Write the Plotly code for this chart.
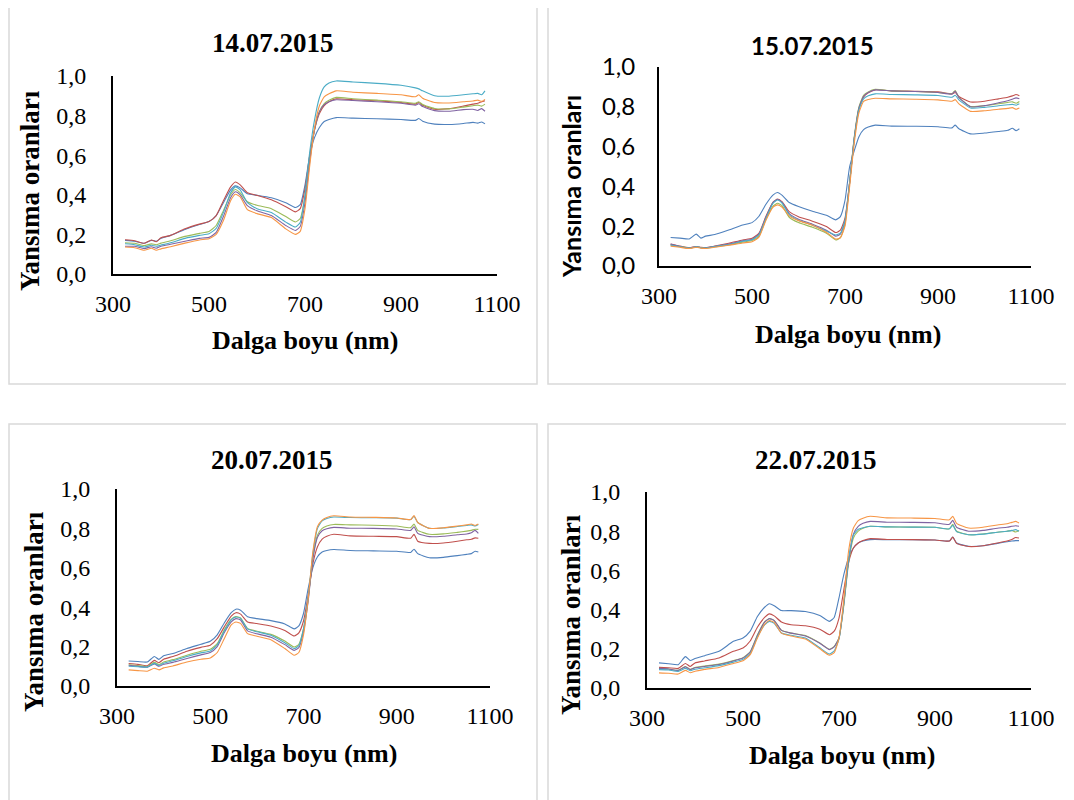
import plotly.graph_objects as go

# ---------------- data ----------------
WAVELENGTH = [325, 345, 365, 380, 390, 400, 420, 450, 480, 500, 515, 530, 545, 555, 565,
              580, 600, 630, 660, 680, 690, 700, 710, 720, 730, 740, 750, 765, 800, 850,
              900, 930, 937, 945, 970, 1000, 1030, 1050, 1060, 1068, 1075]

PANEL_TITLES = ["14.07.2015", "15.07.2015", "20.07.2015", "22.07.2015"]
X_TICKS = [300, 500, 700, 900, 1100]
Y_TICKS = [0.0, 0.2, 0.4, 0.6, 0.8, 1.0]
Y_TICK_TEXT = ["0,0", "0,2", "0,4", "0,6", "0,8", "1,0"]
X_TITLE = "Dalga boyu (nm)"
Y_TITLE = "Yansıma oranları"

# 14.07.2015
d14_s1 = [0.170,0.165,0.155,0.170,0.165,0.180,0.195,0.225,0.250,0.265,0.295,0.360,0.425,0.445,0.435,0.405,0.398,0.385,0.360,0.336,0.350,0.450,0.600,0.690,0.740,0.770,0.780,0.790,0.787,0.784,0.780,0.776,0.785,0.772,0.757,0.755,0.760,0.766,0.762,0.768,0.758]
d14_s2 = [0.173,0.168,0.155,0.172,0.163,0.183,0.195,0.228,0.252,0.265,0.295,0.370,0.440,0.465,0.450,0.410,0.397,0.375,0.340,0.314,0.330,0.430,0.600,0.730,0.810,0.850,0.870,0.885,0.880,0.875,0.866,0.858,0.866,0.852,0.832,0.835,0.848,0.858,0.862,0.870,0.875]
d14_s3 = [0.158,0.155,0.144,0.152,0.148,0.156,0.168,0.190,0.205,0.215,0.245,0.320,0.400,0.427,0.410,0.365,0.347,0.330,0.290,0.263,0.280,0.390,0.580,0.730,0.820,0.860,0.877,0.892,0.885,0.878,0.870,0.862,0.870,0.856,0.836,0.834,0.843,0.850,0.853,0.848,0.858]
d14_s4 = [0.140,0.140,0.128,0.138,0.130,0.140,0.150,0.165,0.180,0.185,0.210,0.290,0.385,0.415,0.400,0.345,0.319,0.295,0.245,0.220,0.240,0.360,0.570,0.730,0.820,0.855,0.870,0.880,0.876,0.870,0.862,0.853,0.860,0.846,0.825,0.822,0.830,0.832,0.826,0.835,0.822]
d14_s5 = [0.153,0.148,0.136,0.145,0.140,0.146,0.158,0.180,0.195,0.203,0.230,0.310,0.410,0.440,0.425,0.360,0.330,0.310,0.262,0.237,0.260,0.400,0.620,0.780,0.890,0.945,0.965,0.975,0.970,0.963,0.953,0.940,0.935,0.925,0.900,0.898,0.905,0.910,0.912,0.905,0.925]
d14_s6 = [0.136,0.133,0.120,0.130,0.120,0.127,0.138,0.156,0.172,0.178,0.200,0.270,0.370,0.403,0.390,0.325,0.305,0.285,0.228,0.200,0.215,0.330,0.550,0.740,0.850,0.895,0.910,0.925,0.918,0.912,0.905,0.895,0.905,0.888,0.866,0.864,0.870,0.874,0.878,0.872,0.882]

# 15.07.2015
d15_s1 = [0.143,0.140,0.136,0.160,0.140,0.150,0.158,0.181,0.206,0.218,0.250,0.310,0.356,0.369,0.355,0.319,0.299,0.275,0.255,0.232,0.248,0.330,0.500,0.580,0.650,0.685,0.698,0.708,0.703,0.702,0.700,0.694,0.708,0.690,0.664,0.668,0.676,0.682,0.692,0.680,0.690]
d15_s2 = [0.111,0.100,0.092,0.098,0.094,0.092,0.100,0.114,0.131,0.139,0.165,0.250,0.320,0.336,0.322,0.273,0.248,0.225,0.198,0.168,0.180,0.240,0.420,0.640,0.790,0.850,0.870,0.885,0.880,0.878,0.875,0.865,0.872,0.852,0.824,0.828,0.840,0.848,0.855,0.862,0.856]
d15_s3 = [0.106,0.098,0.090,0.096,0.092,0.090,0.097,0.106,0.120,0.128,0.150,0.235,0.300,0.315,0.302,0.245,0.218,0.195,0.165,0.131,0.142,0.210,0.420,0.650,0.800,0.858,0.875,0.888,0.880,0.877,0.872,0.866,0.882,0.848,0.802,0.805,0.815,0.822,0.825,0.818,0.827]
d15_s4 = [0.110,0.098,0.090,0.097,0.092,0.091,0.099,0.110,0.127,0.135,0.160,0.245,0.318,0.334,0.318,0.263,0.235,0.210,0.180,0.150,0.160,0.225,0.420,0.645,0.795,0.853,0.872,0.885,0.880,0.877,0.872,0.864,0.878,0.846,0.800,0.806,0.820,0.830,0.838,0.845,0.840]
d15_s5 = [0.105,0.097,0.090,0.096,0.092,0.090,0.098,0.108,0.124,0.132,0.157,0.240,0.315,0.332,0.315,0.258,0.230,0.205,0.175,0.156,0.165,0.230,0.420,0.640,0.785,0.840,0.855,0.865,0.862,0.860,0.857,0.848,0.858,0.835,0.794,0.797,0.805,0.810,0.812,0.808,0.815]
d15_s6 = [0.100,0.094,0.088,0.094,0.090,0.088,0.094,0.104,0.116,0.122,0.145,0.230,0.295,0.307,0.295,0.252,0.228,0.205,0.170,0.135,0.142,0.200,0.400,0.620,0.770,0.827,0.837,0.843,0.840,0.838,0.835,0.828,0.836,0.815,0.777,0.780,0.788,0.792,0.796,0.788,0.794]

# 20.07.2015
d20_s1 = [0.127,0.124,0.122,0.150,0.135,0.153,0.165,0.190,0.212,0.227,0.260,0.320,0.372,0.390,0.385,0.351,0.342,0.332,0.315,0.290,0.305,0.368,0.495,0.600,0.656,0.680,0.688,0.693,0.688,0.686,0.684,0.678,0.694,0.672,0.651,0.653,0.662,0.668,0.672,0.684,0.680]
d20_s2 = [0.114,0.110,0.103,0.130,0.118,0.136,0.150,0.176,0.196,0.207,0.240,0.300,0.355,0.372,0.365,0.325,0.317,0.305,0.282,0.254,0.270,0.330,0.460,0.620,0.707,0.746,0.760,0.770,0.762,0.760,0.758,0.750,0.770,0.735,0.724,0.726,0.735,0.742,0.745,0.752,0.750]
d20_s3 = [0.108,0.104,0.098,0.120,0.108,0.122,0.134,0.156,0.176,0.186,0.215,0.285,0.338,0.352,0.345,0.292,0.278,0.262,0.228,0.198,0.212,0.290,0.440,0.650,0.766,0.800,0.812,0.820,0.818,0.816,0.812,0.804,0.822,0.790,0.770,0.772,0.780,0.786,0.790,0.796,0.795]
d20_s4 = [0.105,0.100,0.095,0.112,0.100,0.110,0.120,0.140,0.158,0.170,0.200,0.270,0.325,0.342,0.335,0.280,0.265,0.248,0.210,0.181,0.195,0.275,0.430,0.645,0.755,0.788,0.798,0.805,0.801,0.800,0.797,0.790,0.808,0.775,0.758,0.760,0.768,0.772,0.778,0.790,0.775]
d20_s5 = [0.100,0.098,0.096,0.115,0.104,0.116,0.128,0.150,0.168,0.178,0.208,0.278,0.336,0.350,0.343,0.290,0.275,0.258,0.220,0.190,0.205,0.290,0.450,0.670,0.800,0.838,0.850,0.858,0.855,0.854,0.852,0.845,0.862,0.830,0.800,0.802,0.810,0.815,0.818,0.812,0.820]
d20_s6 = [0.082,0.078,0.075,0.090,0.082,0.092,0.102,0.122,0.136,0.142,0.170,0.240,0.310,0.325,0.318,0.266,0.253,0.235,0.190,0.156,0.170,0.260,0.440,0.680,0.810,0.842,0.855,0.864,0.858,0.856,0.853,0.845,0.865,0.830,0.800,0.803,0.812,0.818,0.822,0.815,0.822]

# 22.07.2015
d22_s1 = [0.128,0.124,0.119,0.160,0.140,0.150,0.165,0.187,0.238,0.255,0.290,0.365,0.412,0.430,0.420,0.395,0.395,0.390,0.370,0.340,0.360,0.460,0.578,0.663,0.714,0.740,0.750,0.757,0.757,0.757,0.755,0.750,0.770,0.740,0.723,0.726,0.738,0.746,0.750,0.752,0.752]
d22_s2 = [0.105,0.103,0.100,0.125,0.110,0.128,0.138,0.153,0.187,0.204,0.240,0.310,0.360,0.378,0.368,0.337,0.323,0.318,0.300,0.272,0.290,0.357,0.500,0.640,0.714,0.740,0.752,0.762,0.758,0.757,0.755,0.750,0.770,0.738,0.722,0.726,0.740,0.750,0.758,0.768,0.765]
d22_s3 = [0.100,0.097,0.090,0.110,0.095,0.105,0.112,0.122,0.140,0.155,0.185,0.270,0.338,0.354,0.345,0.295,0.280,0.268,0.230,0.198,0.212,0.255,0.420,0.640,0.765,0.800,0.815,0.825,0.822,0.821,0.820,0.812,0.835,0.800,0.782,0.786,0.795,0.800,0.804,0.796,0.803]
d22_s4 = [0.100,0.097,0.090,0.108,0.094,0.103,0.110,0.120,0.138,0.153,0.183,0.268,0.336,0.354,0.344,0.294,0.280,0.265,0.228,0.196,0.210,0.255,0.430,0.650,0.785,0.825,0.840,0.850,0.846,0.845,0.843,0.835,0.855,0.820,0.800,0.804,0.815,0.820,0.825,0.828,0.825]
d22_s5 = [0.094,0.092,0.085,0.100,0.088,0.096,0.103,0.114,0.132,0.146,0.175,0.260,0.322,0.340,0.330,0.281,0.269,0.255,0.205,0.173,0.190,0.250,0.430,0.660,0.780,0.810,0.818,0.825,0.822,0.821,0.820,0.812,0.830,0.798,0.782,0.785,0.795,0.800,0.803,0.808,0.800]
d22_s6 = [0.077,0.075,0.071,0.090,0.078,0.085,0.095,0.105,0.125,0.139,0.170,0.255,0.325,0.344,0.335,0.280,0.265,0.250,0.200,0.167,0.180,0.255,0.450,0.700,0.816,0.854,0.866,0.876,0.868,0.867,0.865,0.858,0.876,0.840,0.816,0.820,0.832,0.838,0.845,0.850,0.842]

PANEL_SERIES = [
    [d14_s1, d14_s2, d14_s3, d14_s4, d14_s5, d14_s6],
    [d15_s1, d15_s2, d15_s3, d15_s4, d15_s5, d15_s6],
    [d20_s1, d20_s2, d20_s3, d20_s4, d20_s5, d20_s6],
    [d22_s1, d22_s2, d22_s3, d22_s4, d22_s5, d22_s6],
]

# ---------------- styling / layout ----------------
COLORS = ["#4F81BD", "#C0504D", "#9BBB59", "#8064A2", "#4BACC6", "#F79646"]
SERIF = "Liberation Serif"
SANS = "Lato"
W, H = 1074, 800
PAGE_OFFSET = 8  # default body margin of the html page


def fx(p):
    return (p - PAGE_OFFSET) / W


def fy(p):
    return 1 - (p - PAGE_OFFSET) / H


# pixel geometry (screen pixels) of each panel
GEOM = [
    dict(x0=113, x1=497, ytop=76, ybot=274, box=(9, 7, 537, 384),
         title=(273, 43), ytitle=(30, 191), xtitle=(305, 340),
         tfont=SERIF, ytfont=SERIF, yfont=SERIF),
    dict(x0=659, x1=1031, ytop=67, ybot=266, box=(548, 7, 1100, 384),
         title=(812, 45), ytitle=(571, 187), xtitle=(848, 334),
         tfont=SANS, ytfont=SANS, yfont=SANS),
    dict(x0=117, x1=490, ytop=489, ybot=686, box=(9, 424, 537, 830),
         title=(272, 460), ytitle=(34, 612), xtitle=(304, 753),
         tfont=SERIF, ytfont=SERIF, yfont=SERIF),
    dict(x0=647, x1=1031, ytop=492, ybot=688, box=(548, 424, 1100, 830),
         title=(816, 460), ytitle=(571, 615), xtitle=(842, 755),
         tfont=SERIF, ytfont=SERIF, yfont=SERIF),
]

fig = go.Figure()
layout = dict(
    template="none",
    width=W, height=H, autosize=False,
    margin=dict(l=0, r=0, t=0, b=0, pad=0, autoexpand=False),
    paper_bgcolor="white", plot_bgcolor="white",
    showlegend=False,
)
annotations = []
shapes = []

for i, (g, series, title) in enumerate(zip(GEOM, PANEL_SERIES, PANEL_TITLES)):
    n = i + 1
    xa = "xaxis" if n == 1 else f"xaxis{n}"
    ya = "yaxis" if n == 1 else f"yaxis{n}"
    xr = "x" if n == 1 else f"x{n}"
    yr = "y" if n == 1 else f"y{n}"
    sans = g["tfont"] == SANS
    for s, c in zip(series, COLORS):
        fig.add_trace(go.Scatter(
            x=WAVELENGTH, y=s, mode="lines", xaxis=xr, yaxis=yr,
            line=dict(color=c, width=1.1, shape="spline", smoothing=0.5),
            hoverinfo="skip"))
    layout[xa] = dict(
        domain=[fx(g["x0"]), fx(g["x1"])], anchor=yr, range=[300, 1100],
        tickvals=X_TICKS, ticktext=[str(v) for v in X_TICKS], automargin=False,
        showline=True, linecolor="black", linewidth=2, showgrid=False, zeroline=False,
        ticks="outside", ticklen=7, tickcolor="rgba(0,0,0,0)",
        tickfont=dict(family=SERIF, size=24, color="black"), fixedrange=True)
    layout[ya] = dict(
        domain=[fy(g["ybot"]), fy(g["ytop"])], anchor=xr, range=[0, 1.0],
        tickvals=Y_TICKS, ticktext=Y_TICK_TEXT, automargin=False,
        showline=True, linecolor="black", linewidth=2, showgrid=False, zeroline=False,
        ticks="outside", ticklen=17 if sans else 20, tickcolor="rgba(0,0,0,0)",
        tickfont=dict(family=g["yfont"], size=24, color="black"), fixedrange=True)
    annotations.append(dict(
        text=f"<b>{title}</b>", x=fx(g["title"][0]), y=fy(g["title"][1]),
        xref="paper", yref="paper", xanchor="center", yanchor="middle", showarrow=False,
        font=dict(family=g["tfont"], size=24 if sans else 27, color="black")))
    annotations.append(dict(
        text=f"<b>{X_TITLE}</b>", x=fx(g["xtitle"][0]), y=fy(g["xtitle"][1]),
        xref="paper", yref="paper", xanchor="center", yanchor="middle", showarrow=False,
        font=dict(family=SERIF, size=26, color="black")))
    annotations.append(dict(
        text=f"<b>{Y_TITLE}</b>", x=fx(g["ytitle"][0]), y=fy(g["ytitle"][1]),
        xref="paper", yref="paper", xanchor="center", yanchor="middle", showarrow=False,
        textangle=-90, font=dict(family=g["ytfont"], size=25 if sans else 27,
                                 color="black")))
    bx0, by0, bx1, by1 = g["box"]
    shapes.append(dict(type="rect", xref="paper", yref="paper",
                       x0=fx(bx0), x1=fx(bx1), y0=fy(by1), y1=fy(by0),
                       line=dict(color="#D9D9D9", width=1.5), layer="below"))

layout["annotations"] = annotations
layout["shapes"] = shapes
fig.update_layout(**layout)
fig.write_html("out.html")
